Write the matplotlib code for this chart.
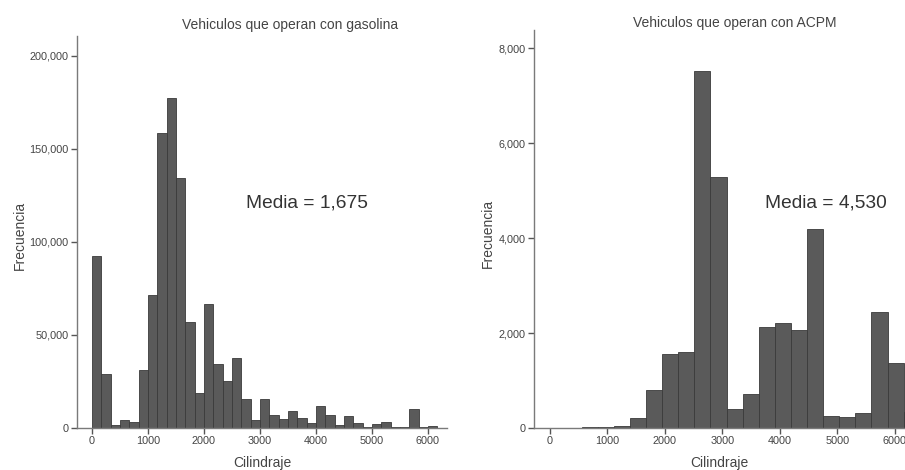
import numpy as np
import matplotlib.pyplot as plt

plt.rcParams['font.family'] = ['Liberation Sans', 'DejaVu Sans']

# gasolina: bins de ~166.7 cc desde 0
gas_ancho = 1000 / 6
gas_frec = [92300, 28900, 1400, 4300, 3200, 31250, 71400, 158800, 177600, 134600,
            56800, 18750, 66400, 34300, 25500, 37500, 15700, 4500, 15400, 7000,
            4800, 9100, 5500, 2500, 11800, 7100, 1400, 6600, 2500, 400,
            2300, 3200, 700, 700, 10000, 700, 900]
gas_media = "Media = 1,675"

# ACPM: bins de 280 cc
acpm_ancho = 280
acpm_inicio = -10
acpm_frec = [10, 10, 15, 20, 40, 205, 800, 1555, 1610, 7510,
             5290, 403, 720, 2120, 2205, 2064, 4183, 261, 240, 318,
             2445, 1370, 340]
acpm_media = "Media = 4,530"

gas_yticks = [0, 50000, 100000, 150000, 200000]
acpm_yticks = [0, 2000, 4000, 6000, 8000]
xticks = [0, 1000, 2000, 3000, 4000, 5000, 6000]

fig = plt.figure(figsize=(9.05, 4.70), dpi=100)
ax1 = fig.add_axes([77/905, 42/470, 370/905, 392/470])
ax2 = fig.add_axes([534/905, 42/470, 371/905, 398/470])

bar_color = '#5a5a5a'
edge_color = '#3a3a3a'
txt_color = '#444444'


def estilo(ax, yticks, ylx):
    for s in ['top', 'right']:
        ax.spines[s].set_visible(False)
    for s in ['left', 'bottom']:
        ax.spines[s].set_color('#7a7a7a')
        ax.spines[s].set_linewidth(1.0)
    ax.set_yticks(yticks)
    ax.set_yticklabels([f"{v:,}" for v in yticks])
    ax.set_xticks(xticks)
    ax.tick_params(axis='both', labelsize=7.8, colors='#555555', labelcolor=txt_color,
                   length=4, width=1.0, direction='out', pad=2)
    ax.set_xlabel('Cilindraje', fontsize=10, color=txt_color, labelpad=7)
    ax.set_ylabel('Frecuencia', fontsize=10, color=txt_color)
    ax.yaxis.set_label_coords(ylx, 0.49)


x1 = np.arange(len(gas_frec)) * gas_ancho
ax1.bar(x1, gas_frec, width=gas_ancho, align='edge', color=bar_color,
        edgecolor=edge_color, linewidth=0.6)
ax1.set_xlim(-268, 6340)
ax1.set_ylim(0, 210750)
estilo(ax1, gas_yticks, -0.136)

x2 = acpm_inicio + np.arange(len(acpm_frec)) * acpm_ancho
ax2.bar(x2, acpm_frec, width=acpm_ancho, align='edge', color=bar_color,
        edgecolor=edge_color, linewidth=0.6)
ax2.set_xlim(-278, 6174)
ax2.set_ylim(0, 8380)
estilo(ax2, acpm_yticks, -0.106)

# titulos y medias
fig.text(290/905, 1 - 25/470, 'Vehiculos que operan con gasolina', fontsize=10,
         color=txt_color, ha='center', va='center')
fig.text(735/905, 1 - 23/470, 'Vehiculos que operan con ACPM', fontsize=10,
         color=txt_color, ha='center', va='center')
fig.text(307/905, 1 - 203/470, gas_media, fontsize=13.8, color='#333333',
         ha='center', va='center')
fig.text(826/905, 1 - 203/470, acpm_media, fontsize=13.8, color='#333333',
         ha='center', va='center')

fig.savefig('out.png', dpi=100)
